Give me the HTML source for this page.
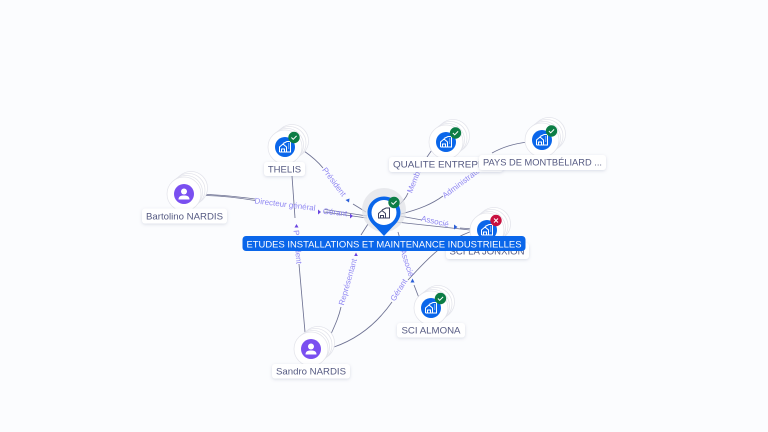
<!DOCTYPE html>
<html><head><meta charset="utf-8">
<style>
html,body{margin:0;padding:0;background:#fbfcfe;}
svg{display:block;}
text{font-family:"Liberation Sans",sans-serif;}
.l{fill:none;stroke:#6d7192;stroke-width:.85;}
.e{font-size:8px;fill:#8f86f2;text-anchor:middle;}
.n{font-size:9.5px;fill:#555a82;text-anchor:middle;}
.i{fill:none;stroke:#fff;stroke-width:1;}
.s{fill:#fff;stroke:#e4e5ec;stroke-width:.8;}
.b{fill:#fff;filter:url(#sh);}
</style></head>
<body>
<svg width="768" height="432" viewBox="0 0 768 432" xmlns="http://www.w3.org/2000/svg">
<defs>
<filter id="sh" x="-20%" y="-40%" width="140%" height="190%"><feDropShadow dx="0" dy="1" stdDeviation="1.500" flood-color="#8088a8" flood-opacity=".28"/></filter>
<g id="stk"><circle class="s" cx="7" cy="-6" r="16.500"/><circle class="s" cx="4.500" cy="-4" r="16.500"/><circle class="s" cx="2" cy="-2" r="16.500"/><circle cx="0" cy="0" r="17" fill="#fff" stroke="#e2e3ea" stroke-width=".7"/></g>
<g id="co"><use href="#stk"/><circle r="10" fill="#0a66ea"/><path class="i" d="M-5.500 5V0L-2 -3L1.500 0V5H-5.500M-3.500 5V2H-.5V5M-2 -3.500L2 -5.500H5.500V5H1.500"/><path d="M3 -3h1.200M3 -1h1.200M3 1h1.200" stroke="#fff" stroke-width=".8"/></g>
<g id="ok"><circle r="5.700" fill="#0c7d45"/><path d="M-2.600 0L-.8 1.800L2.600 -1.600" fill="none" stroke="#fff" stroke-width="1"/></g>
<g id="pe"><use href="#stk"/><circle r="10" fill="#7a4ff0"/><circle cy="-2.500" r="3" fill="#fff"/><path d="M-5.500 5.500C-5.500 2.200 -3 1.500 0 1.500C3 1.500 5.500 2.200 5.500 5.500Z" fill="#fff"/></g>
</defs>
<rect width="768" height="432" fill="#fbfcfe"/>

<!-- edges -->
<path class="l" d="M206 194.500C225 195 240 197 255 199"/>
<path class="l" d="M206 195.500C225 196 240 198 255 200.500"/>
<path class="l" d="M325 209.500L367 216"/>
<path class="l" d="M324 212L367 218"/>
<path class="l" d="M292 176L295 218"/>
<path class="l" d="M299 264L305 332"/>
<path class="l" d="M304 151C314 158 319 163 323 168"/>
<path class="l" d="M353 204L366 212"/>
<path class="l" d="M331 334C336 323 339 316 341 307"/>
<path class="l" d="M361 235L368 224"/>
<path class="l" d="M334 347C360 338 378 322 392 302"/>
<path class="l" d="M408 280C425 262 440 243 472 231"/>
<path class="l" d="M398 232L402 246"/>
<path class="l" d="M414 285L419 298"/>
<path class="l" d="M399 205C403 201 406 198 408 193"/>
<path class="l" d="M420 168C424 162 428 155 432 150"/>
<path class="l" d="M401 214C420 209 432 204 443 196"/>
<path class="l" d="M492 153C503 147 513 144 527 142"/>
<path class="l" d="M400 216L422 220"/>
<path class="l" d="M396 222L470 230"/>
<path class="l" d="M460 228L474 229"/>

<!-- edge labels -->
<text class="e" transform="translate(285 204.500) rotate(7)" y="2.500">Directeur général</text>
<text class="e" transform="translate(335 212.500) rotate(6)" y="2.500">Gérant</text>
<text class="e" transform="translate(334 182) rotate(53)" y="2.500">Président</text>
<text class="e" transform="translate(297.500 247) rotate(85)" y="2.500">Président</text>
<text class="e" transform="translate(348 282) rotate(-74)" y="2.500">Représentant</text>
<text class="e" transform="translate(399 290) rotate(-58)" y="2.500">Gérant</text>
<text class="e" transform="translate(407 263) rotate(72)" y="2.500">Associé</text>
<text class="e" transform="translate(415 179) rotate(-68)" y="2.500">Membre</text>
<text class="e" transform="translate(464 181) rotate(-37)" y="2.500">Administrateur</text>
<text class="e" transform="translate(435 221.500) rotate(13)" y="2.500">Associé</text>

<!-- arrowheads -->
<g fill="#2b5fd8">
<path d="M345.500 200l4 -1.500l-.5 4z"/>
<path d="M454 224.500l3.500 2.500l-3.500 2.500z"/>
<path d="M412.500 278.500l2 4h-4z"/>
</g>
<g fill="#6a45e0">
<path d="M318 209.500l3 2.500l-3 2.500z"/>
<path d="M350 213.500l3 2.500l-3 2.500z"/>
<path d="M296.500 224l2 3.500h-4z"/>
<path d="M356 252.500l1.800 3.500h-3.600z"/>
</g>

<!-- nodes -->
<use href="#co" x="285" y="147"/><use href="#ok" x="294" y="137.500"/>
<use href="#pe" x="184" y="194"/>
<use href="#pe" x="311" y="349"/>
<use href="#co" x="446" y="142"/><use href="#ok" x="455.500" y="133"/>
<use href="#co" x="542" y="140"/><use href="#ok" x="551.500" y="131"/>
<use href="#co" x="431" y="308"/><use href="#ok" x="440.500" y="298.500"/>
<use href="#co" x="487" y="230"/>
<circle cx="496" cy="220.500" r="5.700" fill="#c8103f"/><path d="M494 218.500l4 4m0 -4l-4 4" stroke="#fff" stroke-width="1"/>

<!-- node labels -->
<rect class="b" x="264" y="162" width="41" height="14" rx="3"/><text class="n" x="284.500" y="172.500">THELIS</text>
<rect class="b" x="142" y="208.500" width="85" height="15" rx="3"/><text class="n" x="184.500" y="219.500" textLength="77" lengthAdjust="spacingAndGlyphs">Bartolino NARDIS</text>
<rect class="b" x="389" y="157" width="114" height="15" rx="3"/><text x="393" y="167.500" style="font-size:9.500px;fill:#555a82" textLength="108" lengthAdjust="spacingAndGlyphs">QUALITE ENTREPRISE</text>
<rect class="b" x="479" y="155" width="127" height="15" rx="3"/><text class="n" x="542.500" y="165.500" textLength="119" lengthAdjust="spacingAndGlyphs">PAYS DE MONTBÉLIARD ...</text>
<rect class="b" x="446" y="243" width="83" height="16" rx="3"/><text class="n" x="487" y="254.500" textLength="75" lengthAdjust="spacingAndGlyphs">SCI LA JONXION</text>
<rect class="b" x="397" y="323" width="68" height="14.500" rx="3"/><text class="n" x="431" y="333.500" textLength="59" lengthAdjust="spacingAndGlyphs">SCI ALMONA</text>
<rect class="b" x="272" y="364" width="78" height="14.500" rx="3"/><text class="n" x="311" y="374.500" textLength="70" lengthAdjust="spacingAndGlyphs">Sandro NARDIS</text>

<!-- central pin -->
<circle cx="384" cy="210" r="22" fill="#e2e3e7" opacity=".75"/>
<path d="M384 196.500C374.500 196.500 367.500 204 367.500 212.500C367.500 219.500 372 223.500 376 227.500L384 236L392 227.500C396 223.500 400.500 219.500 400.500 212.500C400.500 204 393.500 196.500 384 196.500Z" fill="#0a66ea"/>
<circle cx="384" cy="212.500" r="12.500" fill="#fff"/>
<path d="M378.500 218V213.500L382 210.500L385.500 213.500V218ZM380.500 218V215.500H383.500V218M382 210L386 208H389.500V218H385.500" fill="none" stroke="#3c4160" stroke-width="1"/>
<use href="#ok" x="394" y="202.500"/>

<rect x="242.500" y="236" width="283" height="15" rx="3.500" fill="#0a66ea"/>
<text x="384" y="247.500" style="font-size:9.500px;fill:#fff;text-anchor:middle" textLength="275" lengthAdjust="spacingAndGlyphs">ETUDES INSTALLATIONS ET MAINTENANCE INDUSTRIELLES</text>
</svg>
</body></html>
